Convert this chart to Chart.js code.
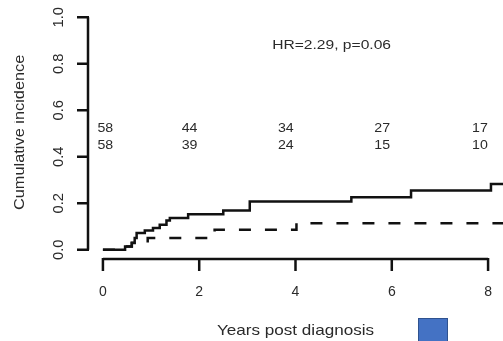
<!DOCTYPE html>
<html>
<head>
<meta charset="utf-8">
<script src="https://cdn.jsdelivr.net/npm/chart.js@4/dist/chart.umd.min.js"></script>
<style>
  html, body { margin: 0; padding: 0; background: #fff; }
  canvas { display: block; }
</style>
</head>
<body>
<canvas id="ciChart" width="503" height="341"></canvas>
<script>
// Cumulative incidence steps (years, value)
const solidYears = [0, 0.46, 0.6, 0.66, 0.7, 0.87, 1.04, 1.18, 1.32, 1.39, 1.77, 2.5, 3.05, 5.16, 6.4, 8.06, 8.4];
const solidCI    = [0, 0.014, 0.029, 0.05, 0.072, 0.083, 0.093, 0.107, 0.126, 0.136, 0.153, 0.169, 0.207, 0.226, 0.255, 0.283, 0.283];
const dashYears  = [0, 0.46, 0.6, 0.93, 2.32, 4.02, 8.4];
const dashCI     = [0, 0.014, 0.03, 0.05, 0.086, 0.114, 0.114];

// axis ticks
const xTicks = [0, 2, 4, 6, 8];
const yTicks = [0, 0.2, 0.4, 0.6, 0.8, 1.0];

// number at risk
const atRiskYears = [0.05, 1.8, 3.8, 5.8, 7.83];
const atRiskRow1 = [58, 44, 34, 27, 17];
const atRiskRow2 = [58, 39, 24, 15, 10];

const hrText = 'HR=2.29, p=0.06';
const xTitle = 'Years post diagnosis';
const yTitle = 'Cumulative incidence';

const toPts = (xs, ys) => xs.map((x, i) => ({ x: x, y: ys[i] }));

const FONT = '"Liberation Sans", Arial, sans-serif';
const TXT = '#2a2a2a';

// text with a bit of horizontal stretch, like the scanned figure
function stretchText(ctx, text, x, y, size, stretch, angle) {
  ctx.save();
  ctx.translate(x, y);
  if (angle) ctx.rotate(angle);
  ctx.scale(stretch, 1);
  ctx.font = size + 'px ' + FONT;
  ctx.fillText(text, 0, 0);
  ctx.restore();
}

// R-style axes and annotations
const rAxes = {
  id: 'rAxes',
  afterDraw(chart) {
    const ctx = chart.ctx;
    const xs = chart.scales.x;
    const ys = chart.scales.y;
    const axisY = chart.chartArea.bottom;
    const axisX = chart.chartArea.left;
    ctx.save();
    ctx.strokeStyle = '#111';
    ctx.lineWidth = 2.5;
    ctx.lineCap = 'butt';

    // x axis
    ctx.beginPath();
    ctx.moveTo(xs.getPixelForValue(xTicks[0]), axisY);
    ctx.lineTo(xs.getPixelForValue(xTicks[xTicks.length - 1]), axisY);
    xTicks.forEach(t => {
      const px = xs.getPixelForValue(t);
      ctx.moveTo(px, axisY - 1);
      ctx.lineTo(px, axisY + 12);
    });
    ctx.stroke();

    // y axis
    ctx.beginPath();
    ctx.moveTo(axisX, ys.getPixelForValue(yTicks[0]));
    ctx.lineTo(axisX, ys.getPixelForValue(yTicks[yTicks.length - 1]));
    yTicks.forEach(t => {
      const py = ys.getPixelForValue(t);
      ctx.moveTo(axisX + 1, py);
      ctx.lineTo(axisX - 11, py);
    });
    ctx.stroke();

    ctx.fillStyle = TXT;
    ctx.textAlign = 'center';
    ctx.textBaseline = 'middle';
    xTicks.forEach(t => {
      stretchText(ctx, String(t), xs.getPixelForValue(t), axisY + 33, 14, 1);
    });

    ctx.textBaseline = 'alphabetic';
    yTicks.forEach(t => {
      stretchText(ctx, t.toFixed(1), axisX - 25, ys.getPixelForValue(t), 14, 1.05, -Math.PI / 2);
    });

    // numbers at risk
    ctx.textBaseline = 'middle';
    atRiskYears.forEach((t, i) => {
      const px = xs.getPixelForValue(t);
      stretchText(ctx, String(atRiskRow1[i]), px, ys.getPixelForValue(0.524), 13.5, 1.05);
      stretchText(ctx, String(atRiskRow2[i]), px, ys.getPixelForValue(0.45), 13.5, 1.05);
    });

    // hazard ratio
    stretchText(ctx, hrText, xs.getPixelForValue(4.75), ys.getPixelForValue(0.88), 13, 1.2);

    // x title
    stretchText(ctx, xTitle, xs.getPixelForValue(4), axisY + 72, 15, 1.14);

    // y title (clipped at the left like the source)
    ctx.save();
    ctx.beginPath();
    ctx.rect(14, 0, 40, chart.height);
    ctx.clip();
    ctx.textBaseline = 'alphabetic';
    stretchText(ctx, yTitle, 24, ys.getPixelForValue(0.505), 15, 1.09, -Math.PI / 2);
    ctx.restore();

    // blue square
    ctx.fillStyle = '#4472c4';
    ctx.strokeStyle = '#2f528f';
    ctx.lineWidth = 1;
    ctx.fillRect(418, 318, 30, 26);
    ctx.strokeRect(418.5, 318.5, 29, 26);

    ctx.restore();
  }
};

new Chart(document.getElementById('ciChart').getContext('2d'), {
  type: 'line',
  data: {
    datasets: [
      {
        label: 'Group 1',
        data: toPts(solidYears, solidCI),
        borderColor: '#111',
        borderWidth: 2.5,
        stepped: 'before',
        pointRadius: 0,
        fill: false
      },
      {
        label: 'Group 2',
        data: toPts(dashYears, dashCI),
        borderColor: '#111',
        borderWidth: 2.5,
        borderDash: [12, 14],
        stepped: 'before',
        pointRadius: 0,
        fill: false
      }
    ]
  },
  options: {
    responsive: false,
    animation: false,
    layout: { padding: { left: 88, right: 0, top: 8, bottom: 82 } },
    scales: {
      x: { type: 'linear', min: -0.31, max: 8.31, display: false },
      y: { type: 'linear', min: -0.04, max: 1.04, display: false }
    },
    plugins: {
      legend: { display: false },
      tooltip: { enabled: false }
    }
  },
  plugins: [rAxes]
});
</script>
</body>
</html>
